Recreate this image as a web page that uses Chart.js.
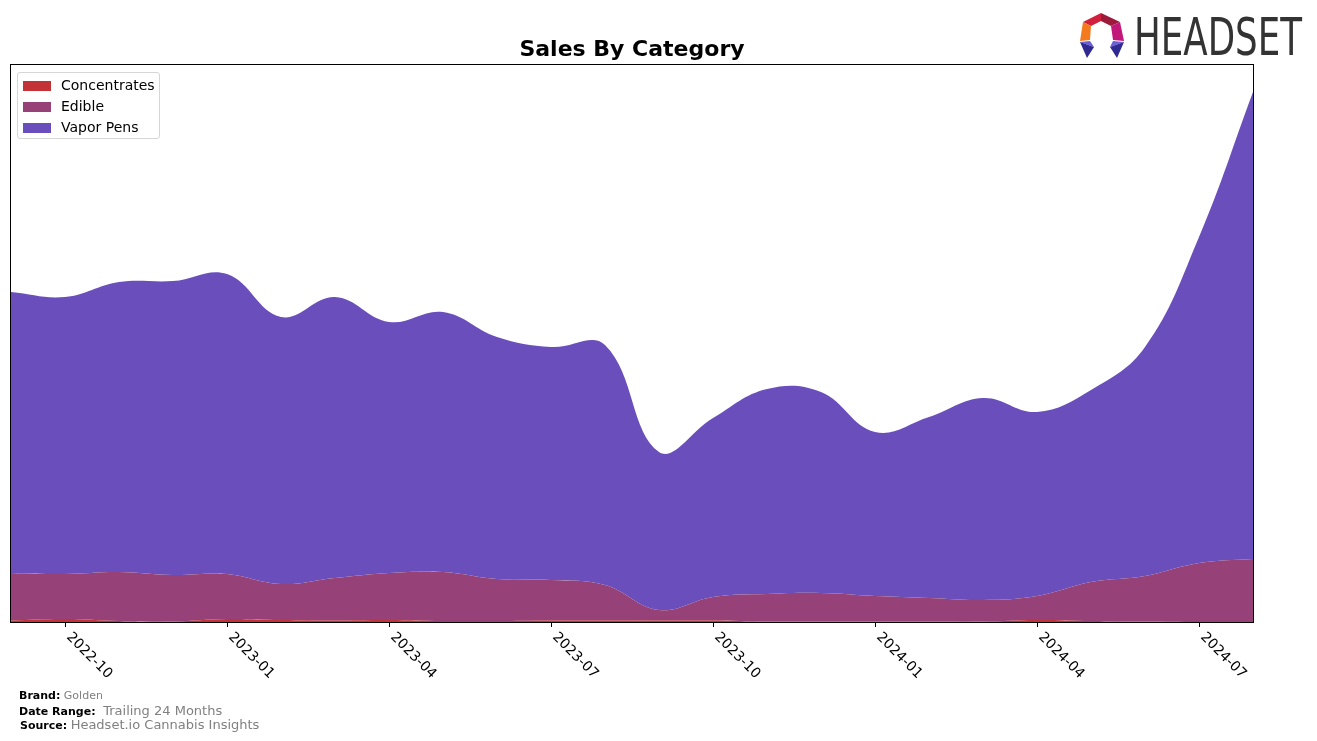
<!DOCTYPE html>
<html>
<head>
<meta charset="utf-8">
<script src="https://cdn.jsdelivr.net/npm/chart.js@4.4.1/dist/chart.umd.min.js"></script>
<style>
  body { margin: 0; background: #fff; font-family: "DejaVu Sans", sans-serif; }
  #wrap { position: relative; width: 1317px; height: 741px; overflow: hidden; }
  #chart { position: absolute; left: 0; top: 0; }
  .title { position: absolute; left: 0; width: 1264px; top: 36px; text-align: center; font-weight: bold; font-size: 22px; color: #000; }
  .legend { position: absolute; left: 17px; top: 72px; width: 141px; height: 65px; border: 1px solid #d6d6d6; border-radius: 3px; background: rgba(255,255,255,0.85); }
  .legend .item { position: absolute; left: 5px; height: 16px; font-size: 14px; line-height: 16px; white-space: nowrap; }
  .legend .patch { display: inline-block; width: 28px; height: 10px; vertical-align: -1px; margin-right: 10px; }
  .foot { position: absolute; left: 19px; font-size: 11px; color: #000; white-space: nowrap; }
  .foot b { font-weight: bold; }
  .foot span { color: #808080; }
  .logo { position: absolute; left: 1080px; top: 13px; }
  .logotext { position: absolute; left: 1134px; top: 8px; font-family: "Liberation Sans Narrow", "DejaVu Sans Condensed", sans-serif; font-size: 51px; color: #333; transform-origin: 0 0; white-space: nowrap; }
</style>
</head>
<body>
<div id="wrap">
  <canvas id="chart" width="1317" height="741"></canvas>
  <div class="title">Sales By Category</div>
  <div class="legend" id="legend"></div>
  <div class="foot" style="top:689px"><b>Brand:</b> <span>Golden</span></div>
  <div class="foot" style="top:703px"><b>Date Range:</b> <span style="font-size:13px">&nbsp;Trailing 24 Months</span></div>
  <div class="foot" style="top:717px;left:20px"><b>Source:</b> <span style="font-size:13px">Headset.io Cannabis Insights</span></div>
  <svg class="logo" width="46" height="46" viewBox="0 0 46 46">
    <polygon points="3,9 21,0 21,8 11,13" fill="#d21f3c"/>
    <polygon points="21,0 40,9 31,13 21,8" fill="#9e1a3a"/>
    <polygon points="3,9 11,13 10,27 0,28" fill="#f47a20"/>
    <polygon points="40,9 31,13 33,27 44,28" fill="#c2187a"/>
    <polygon points="0,29 10,28 14,34" fill="#6a5fd8"/>
    <polygon points="0,29 14,34 7,45" fill="#2f2a8f"/>
    <polygon points="44,29 33,28 30,34" fill="#6a5fd8"/>
    <polygon points="44,29 30,34 37,45" fill="#2f2a8f"/>
  </svg>
  <div class="logotext" id="logotext">HEADSET</div>
</div>
<script>
// months shown on the x axis (2022-09 .. 2024-08)
const months = ['2022-09','2022-10','2022-11','2022-12','2023-01','2023-02','2023-03','2023-04',
  '2023-05','2023-06','2023-07','2023-08','2023-09','2023-10','2023-11','2023-12',
  '2024-01','2024-02','2024-03','2024-04','2024-05','2024-06','2024-07','2024-08'];
const tickLabels = ['2022-10','2023-01','2023-04','2023-07','2023-10','2024-01','2024-04','2024-07'];

// sales by category (thousands)
const concentrates = [1.5,3,1,0.5,3,2,1.5,2,1,1,1.5,1.5,1.5,1.5,0.5,0.5,0.5,0.5,0.5,2,1,0.5,1,1];
const edible = [47.5,45,49,46.5,45,36,42.5,47,49,42,40.5,35.5,10.5,23.5,27.5,28.5,25.5,23.5,21.5,24,39,45.5,58,62];
const vaporPens = [281,277,290,294,300,267,281,251,260,242,233,240,158,179,205,201,164,181,202,184,192,229,326,467];

const colors = { Concentrates: '#c23237', Edible: '#964278', 'Vapor Pens': '#6a4ebc' };

const series = [
  { label: 'Concentrates', data: concentrates, fill: 'origin' },
  { label: 'Edible', data: edible, fill: '-1' },
  { label: 'Vapor Pens', data: vaporPens, fill: '-1' },
];

const legendEl = document.getElementById('legend');
series.forEach((s, i) => {
  const d = document.createElement('div');
  d.className = 'item';
  d.style.top = (4 + i * 21) + 'px';
  d.innerHTML = '<span class="patch" style="background:' + colors[s.label] + '"></span>' + s.label;
  legendEl.appendChild(d);
});

// squeeze the logo word into its box
const logo = document.getElementById('logotext');
logo.style.transform = 'scaleX(' + (168 / logo.getBoundingClientRect().width) + ')';

const framePlugin = {
  id: 'frame',
  afterDraw(chart) {
    const { ctx, chartArea: a } = chart;
    const x = chart.scales.x;
    ctx.save();
    ctx.strokeStyle = '#000';
    ctx.lineWidth = 1;
    ctx.strokeRect(a.left - 0.5, a.top - 0.5, a.right - a.left + 1, a.bottom - a.top + 1);
    ctx.fillStyle = '#000';
    ctx.font = '14px "DejaVu Sans"';
    tickLabels.forEach(lbl => {
      const px = Math.round(x.getPixelForValue(months.indexOf(lbl))) + 0.5;
      ctx.beginPath();
      ctx.moveTo(px, a.bottom);
      ctx.lineTo(px, a.bottom + 5);
      ctx.stroke();
      ctx.save();
      ctx.translate(px + 3, a.bottom + 13);
      ctx.rotate(Math.PI / 4);
      ctx.textAlign = 'left';
      ctx.textBaseline = 'middle';
      ctx.fillText(lbl, 0, 0);
      ctx.restore();
    });
    ctx.restore();
  }
};

new Chart(document.getElementById('chart'), {
  type: 'line',
  data: {
    labels: months,
    datasets: series.map(s => ({
      label: s.label,
      data: s.data,
      fill: s.fill,
      backgroundColor: colors[s.label],
      borderColor: colors[s.label],
      borderWidth: 0,
      pointRadius: 0,
      tension: 0.4,
    })),
  },
  options: {
    responsive: false,
    animation: false,
    layout: { padding: { left: 11, right: 64, top: 65, bottom: 119 } },
    plugins: { legend: { display: false }, title: { display: false }, tooltip: { enabled: false } },
    scales: {
      x: { display: false, offset: false },
      y: { display: false, stacked: true, min: 0, max: 557 },
    },
  },
  plugins: [framePlugin],
});
</script>
</body>
</html>
